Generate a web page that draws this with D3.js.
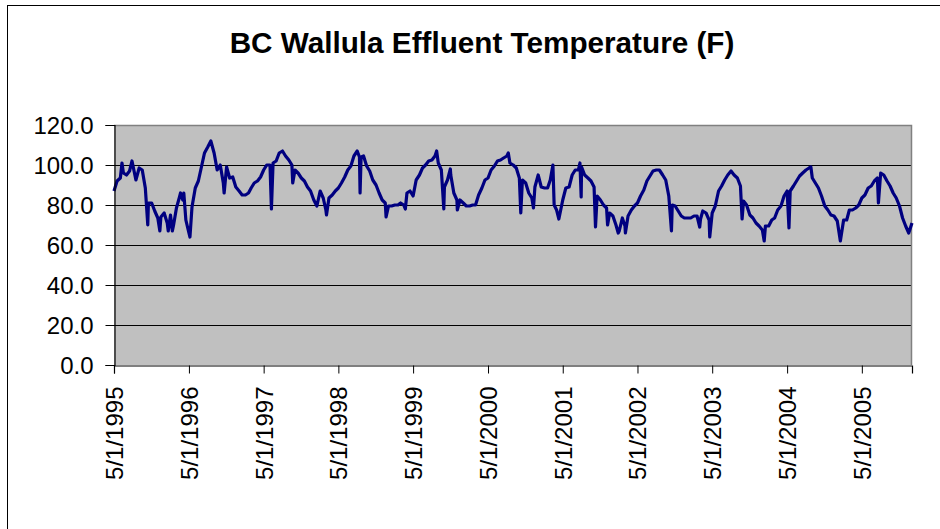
<!DOCTYPE html>
<html>
<head>
<meta charset="utf-8">
<script src="https://cdn.jsdelivr.net/npm/d3@7"></script>
<style>
  html, body { margin: 0; padding: 0; background: #fff; }
  svg { display: block; }
  text { font-family: Arial, "Liberation Sans", sans-serif; fill: #000; }
</style>
</head>
<body>
<svg id="chart" width="940" height="529"></svg>
<script>
const chartTitle = "BC Wallula Effluent Temperature (F)";

const dates = [
  "1995-05-01","1995-05-16","1995-06-01","1995-06-09","1995-06-16","1995-07-01","1995-07-16","1995-07-28","1995-08-01","1995-08-16",
  "1995-09-01","1995-09-16","1995-10-01","1995-10-13","1995-10-16","1995-11-01","1995-11-16","1995-12-01","1995-12-11","1995-12-16",
  "1996-01-01","1996-01-16","1996-01-21","1996-02-01","1996-02-10","1996-02-16","1996-03-01","1996-03-16","1996-03-21","1996-04-01",
  "1996-04-06","1996-04-16","1996-05-01","1996-05-06","1996-05-16","1996-06-01","1996-06-16","1996-07-01","1996-07-16","1996-08-01",
  "1996-08-16","1996-09-01","1996-09-16","1996-10-01","1996-10-16","1996-10-20","1996-11-01","1996-11-16","1996-12-01","1996-12-16",
  "1997-01-01","1997-01-16","1997-02-01","1997-02-16","1997-03-01","1997-03-16","1997-04-01","1997-04-16","1997-05-01","1997-05-16",
  "1997-06-01","1997-06-08","1997-06-16","1997-07-01","1997-07-16","1997-08-01","1997-08-16","1997-09-01","1997-09-16","1997-09-20",
  "1997-10-01","1997-10-16","1997-11-01","1997-11-16","1997-12-01","1997-12-16",
  "1998-01-01","1998-01-16","1998-02-01","1998-02-16","1998-03-01","1998-03-04","1998-03-16","1998-04-01","1998-04-16","1998-05-01",
  "1998-05-16","1998-06-01","1998-06-16","1998-07-01","1998-07-16","1998-08-01","1998-08-12","1998-08-15","1998-08-20","1998-09-01",
  "1998-09-16","1998-10-01","1998-10-16","1998-11-01","1998-11-16","1998-12-01","1998-12-16","1998-12-20",
  "1999-01-01","1999-01-16","1999-02-01","1999-02-16","1999-03-01","1999-03-16","1999-03-24","1999-04-01","1999-04-16","1999-05-01",
  "1999-05-16","1999-06-01","1999-06-16","1999-07-01","1999-07-16","1999-08-01","1999-08-16","1999-08-24","1999-09-01","1999-09-16",
  "1999-09-28","1999-10-01","1999-10-16","1999-10-30","1999-11-01","1999-11-16","1999-12-01","1999-12-03","1999-12-16",
  "2000-01-01","2000-01-16","2000-02-01","2000-02-16","2000-03-01","2000-03-16","2000-04-01","2000-04-16","2000-05-01","2000-05-16",
  "2000-06-01","2000-06-16","2000-07-01","2000-07-16","2000-08-01","2000-08-08","2000-08-16","2000-09-01","2000-09-16","2000-10-01",
  "2000-10-08","2000-10-16","2000-11-01","2000-11-16","2000-12-01","2000-12-09","2000-12-16",
  "2001-01-01","2001-01-16","2001-02-01","2001-02-16","2001-03-01","2001-03-14","2001-03-20","2001-04-01","2001-04-12","2001-04-16",
  "2001-05-01","2001-05-16","2001-06-01","2001-06-16","2001-07-01","2001-07-16","2001-07-24","2001-07-30","2001-08-01","2001-08-16",
  "2001-09-01","2001-09-16","2001-10-01","2001-10-08","2001-10-16","2001-11-01","2001-11-16","2001-12-01","2001-12-06","2001-12-16",
  "2002-01-01","2002-01-16","2002-01-27","2002-02-01","2002-02-16","2002-03-01","2002-03-03","2002-03-16","2002-04-01","2002-04-16",
  "2002-05-01","2002-05-16","2002-06-01","2002-06-16","2002-07-01","2002-07-16","2002-08-01","2002-08-16","2002-09-01","2002-09-16",
  "2002-10-01","2002-10-14","2002-10-18","2002-11-01","2002-11-16","2002-12-01","2002-12-16",
  "2003-01-01","2003-01-16","2003-02-01","2003-02-16","2003-03-01","2003-03-05","2003-03-16","2003-04-01","2003-04-16","2003-04-19",
  "2003-05-01","2003-05-16","2003-06-01","2003-06-16","2003-07-01","2003-07-16","2003-08-01","2003-08-16","2003-09-01","2003-09-16",
  "2003-09-24","2003-10-01","2003-10-16","2003-11-01","2003-11-16","2003-12-01","2003-12-16",
  "2004-01-01","2004-01-10","2004-01-16","2004-02-01","2004-02-16","2004-03-01","2004-03-16","2004-04-01","2004-04-16","2004-05-01",
  "2004-05-10","2004-05-16","2004-06-01","2004-06-16","2004-07-01","2004-07-16","2004-08-01","2004-08-16","2004-08-25","2004-09-01",
  "2004-09-16","2004-10-01","2004-10-16","2004-11-01","2004-11-16","2004-12-01","2004-12-16",
  "2005-01-01","2005-01-16","2005-02-01","2005-02-16","2005-03-01","2005-03-16","2005-04-01","2005-04-16","2005-05-01","2005-05-16",
  "2005-06-01","2005-06-16","2005-07-01","2005-07-16","2005-07-21","2005-08-01","2005-08-16","2005-09-01","2005-09-16","2005-10-01",
  "2005-10-16","2005-11-01","2005-11-16","2005-12-01","2005-12-16","2006-01-01"
];

const temps = [
  87,92,93.5,101,96,95,97,102,100,92.5,
  98.5,97.5,88.5,70,81,81,77,73.5,67,74,
  76,71,67,75,67,70,78.5,84,86,82.5,
  86,72.5,66,64,79,88.5,92,99,106,109,
  112,106,97.5,100,91,86,99,93.5,94,89,
  87,85,85,86,88.5,91,92,94,97.5,100,
  100,78,101,102,106,107,104.5,102.5,100,91,
  97.5,96,93.5,92,89,87,
  82.5,79.5,87,83.5,77.5,75,83.5,85,87,88.5,
  91,94,97.5,99.5,104.5,107,104,86,104,104.5,
  99.5,97,92.5,90,86,82.5,81,74,
  79.5,79.5,80,80,81,80,78,86,87,84.5,
  92.5,95,98.5,100,102,102.5,104.5,107,101,97.5,
  78,89,92.5,98,95,86,82.5,77.5,82.5,
  81,79.5,79.5,80,80,85,88.5,92.5,93.5,97.5,
  99.5,102,102.5,103.5,104.5,106,101,100,98.5,93.5,
  76,92.5,91,86,83.5,78.5,89,
  95,89,88.5,88.5,92.5,100,80,77.5,73,75,
  82.5,88.5,89,95,97.5,97.5,101,84,99,95,
  93.5,92,89,69,84.5,82.5,80,78.5,70,76,
  74.5,70,66,67,73.5,69.5,66,74.5,77.5,79.5,
  81,84.5,87.5,92,94.5,97,97.5,97.5,95,92.5,
  84.5,67,80,79.5,77,74.5,73.5,
  73.5,73.5,74.5,74.5,69,73,77,76,72.5,64,
  76,79.5,87,89.5,92.5,95,97,95,93.5,89.5,
  73,82,80,75,73.5,71,69.5,
  67.5,62,69.5,69.5,72.5,73.5,77.5,79.5,84.5,87,
  68.5,87,89.5,92,94.5,96,97.5,98.5,99,93.5,
  91,88.5,84.5,79.5,77.5,75,74.5,
  72,62,72.5,72.5,77.5,77.5,78.5,80,83.5,85,
  88.5,89.5,92,93.5,81,96,95,92,89.5,86,
  83.5,79.5,73.5,69.5,66,71
];

const yTicks = [0, 20, 40, 60, 80, 100, 120];
const xTickLabels = ["5/1/1995","5/1/1996","5/1/1997","5/1/1998","5/1/1999","5/1/2000",
                     "5/1/2001","5/1/2002","5/1/2003","5/1/2004","5/1/2005"];

const parse = d3.timeParse("%Y-%m-%d");
const parseTick = d3.timeParse("%m/%d/%Y");
const data = dates.map((d, i) => ({ date: parse(d), value: temps[i] }));

const svg = d3.select("#chart");
const W = 940, H = 529;
const plot = { left: 114, right: 912, top: 125, bottom: 365 };

// outer chart frame (only left/top edges visible in view)
svg.append("rect").attr("x", 0).attr("y", 0).attr("width", W).attr("height", H).attr("fill", "#fff");
svg.append("rect")
  .attr("x", 7.5).attr("y", 5.5).attr("width", W + 20).attr("height", H + 20)
  .attr("fill", "#fff").attr("stroke", "#000").attr("stroke-width", 1);

const x = d3.scaleTime()
  .domain([data[0].date, data[data.length - 1].date])
  .range([plot.left, plot.right]);
const y = d3.scaleLinear().domain([0, 120]).range([plot.bottom, plot.top]);

// plot area
svg.append("rect")
  .attr("x", plot.left).attr("y", plot.top)
  .attr("width", plot.right - plot.left).attr("height", plot.bottom - plot.top)
  .attr("fill", "#c0c0c0");

// gridlines
svg.append("g")
  .selectAll("line")
  .data(yTicks.filter(t => t > 0 && t < 120))
  .join("line")
  .attr("x1", plot.left).attr("x2", plot.right)
  .attr("y1", d => Math.round(y(d)) + 0.5).attr("y2", d => Math.round(y(d)) + 0.5)
  .attr("stroke", "#000").attr("stroke-width", 1);

// plot border top/right
svg.append("path")
  .attr("d", `M${plot.left},${plot.top + 0.5}H${plot.right - 0.5}V${plot.bottom}`)
  .attr("fill", "none").attr("stroke", "#808080").attr("stroke-width", 1.5);

// data line
const line = d3.line().x(d => x(d.date)).y(d => y(d.value));
svg.append("path")
  .datum(data)
  .attr("d", line)
  .attr("fill", "none")
  .attr("stroke", "#000080")
  .attr("stroke-width", 3.2)
  .attr("stroke-linejoin", "round");

// y axis
const yAxis = d3.axisLeft(y).tickValues(yTicks).tickSize(9).tickPadding(12)
  .tickFormat(d3.format(".1f"));
const gy = svg.append("g").attr("transform", `translate(${plot.left + 0.5},0)`).call(yAxis);
gy.select(".domain").attr("stroke", "#000").attr("stroke-width", 1.2);
gy.selectAll(".tick line").attr("stroke", "#000");
gy.selectAll(".tick text")
  .attr("font-size", 24).attr("font-family", "Arial, 'Liberation Sans', sans-serif")
  .attr("fill", "#000").attr("dy", "0.35em");

// x axis
const xTicks = xTickLabels.map(s => parseTick(s));
const xAxis = d3.axisBottom(x).tickValues(xTicks).tickSize(8).tickFormat((d, i) => xTickLabels[i]);
const gx = svg.append("g").attr("transform", `translate(0,${plot.bottom + 0.5})`).call(xAxis);
gx.select(".domain").attr("stroke", "#000").attr("stroke-width", 1.2);
gx.selectAll(".tick line").attr("stroke", "#000");
gx.selectAll(".tick text")
  .attr("font-size", 24).attr("font-family", "Arial, 'Liberation Sans', sans-serif")
  .attr("fill", "#000")
  .attr("text-anchor", "end")
  .attr("transform", "translate(0,21) rotate(-90)")
  .attr("x", 0).attr("y", 0).attr("dy", "0.35em");

// title
svg.append("text")
  .attr("x", 482).attr("y", 53)
  .attr("text-anchor", "middle")
  .attr("font-size", 29.7).attr("font-weight", "bold")
  .text(chartTitle);
</script>
</body>
</html>
